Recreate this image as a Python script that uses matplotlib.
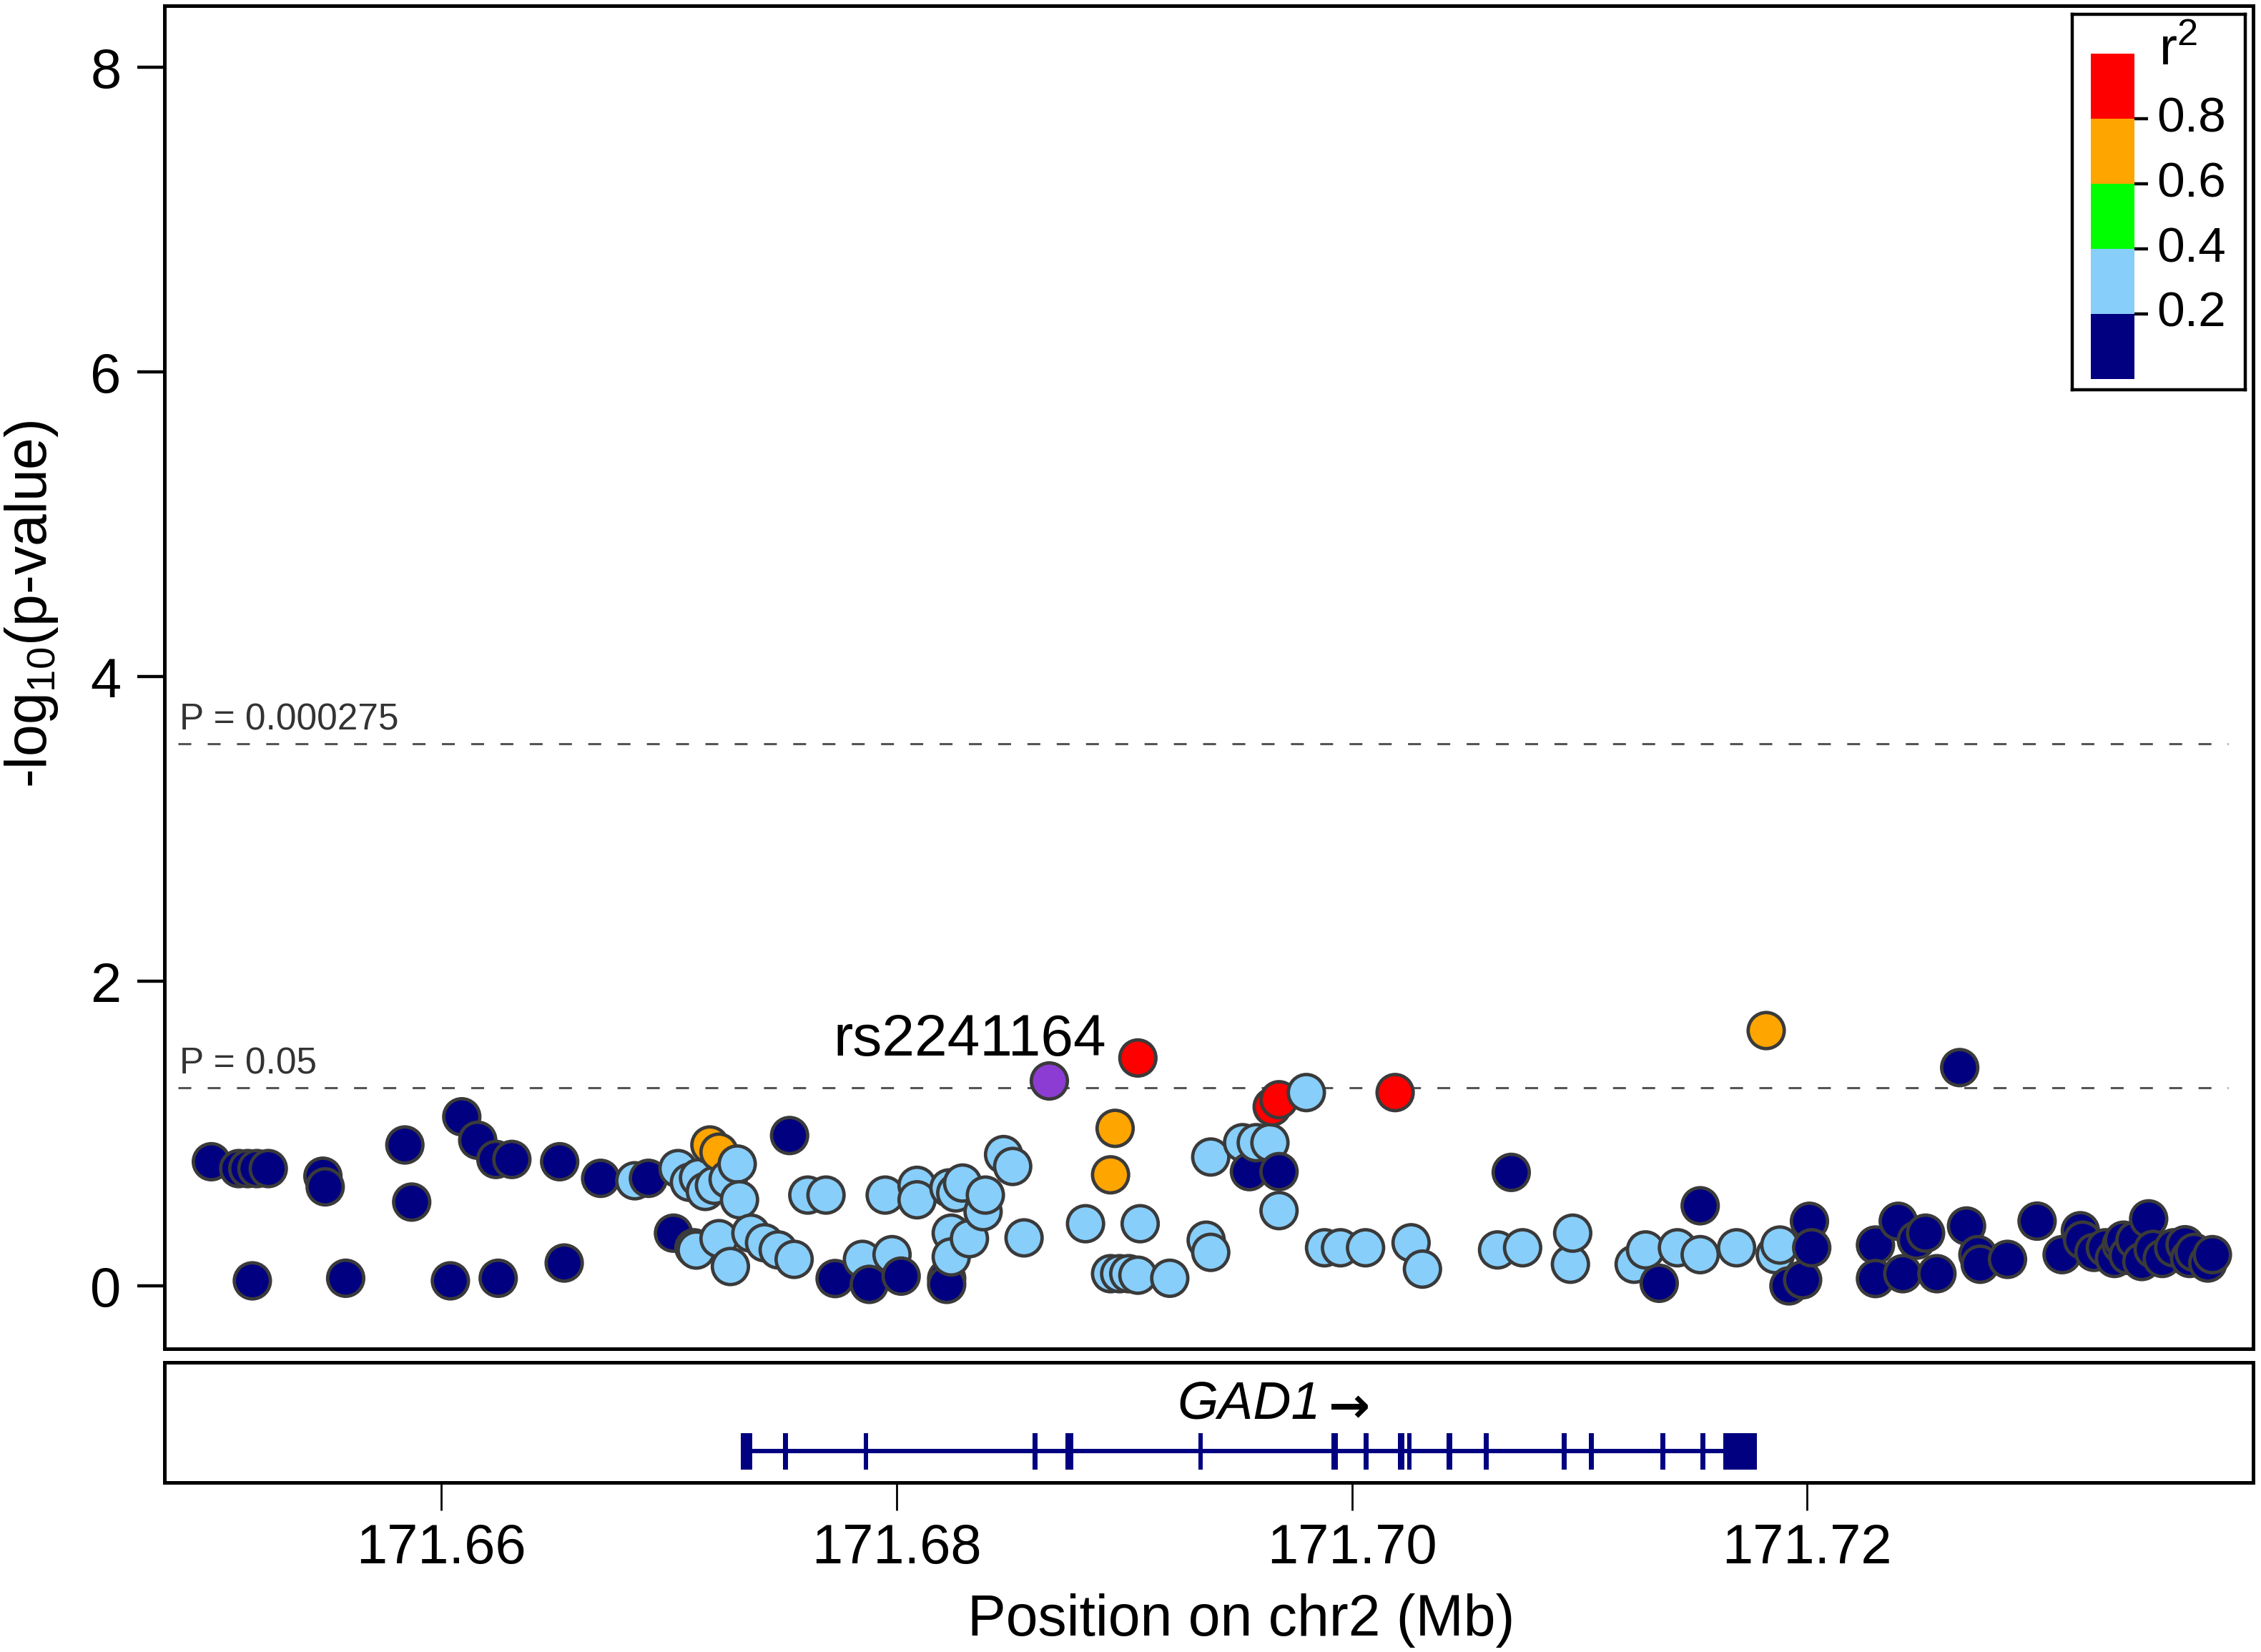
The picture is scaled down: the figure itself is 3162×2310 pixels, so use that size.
import numpy as np
import matplotlib
matplotlib.use('Agg')
import matplotlib.pyplot as plt
from matplotlib.transforms import blended_transform_factory

plt.rcParams['font.family'] = ['Liberation Sans', 'DejaVu Sans']
plt.rcParams['mathtext.fontset'] = 'custom'
plt.rcParams['mathtext.rm'] = 'Liberation Sans'
plt.rcParams['mathtext.it'] = 'Liberation Sans:italic'

# ---------------- data ----------------
# r2 < 0.2 (navy)
navy_pos = [171.6499, 171.6511, 171.6515, 171.6519, 171.6524, 171.6548, 171.6549,
            171.6584, 171.6587, 171.6609, 171.6616, 171.6624, 171.6631, 171.6652,
            171.6670, 171.6691, 171.6517, 171.6558, 171.6604, 171.6625, 171.6654,
            171.6702, 171.6753, 171.6773, 171.6788, 171.6802, 171.6822, 171.6822,
            171.6955, 171.6968, 171.7070, 171.7153, 171.7135, 171.7267,
            171.7201, 171.7202, 171.7198, 171.7192, 171.7230, 171.7230,
            171.7240, 171.7242, 171.7252, 171.7248, 171.7257, 171.7270,
            171.7275, 171.7276, 171.7288, 171.7301, 171.7312, 171.7320, 171.7321,
            171.7326, 171.7331, 171.7335, 171.7338, 171.7341, 171.7344, 171.7347,
            171.7350, 171.7352, 171.7356, 171.7361, 171.7366, 171.7368, 171.7370,
            171.7376, 171.7378, 171.7339]
navy_logp = [0.815, 0.77, 0.77, 0.77, 0.77, 0.72, 0.65,
             0.925, 0.55, 1.11, 0.956, 0.83, 0.83, 0.815,
             0.706, 0.706, 0.033, 0.05, 0.033, 0.05, 0.15,
             0.346, 0.987, 0.048, 0.01, 0.064, 0.048, 0.01,
             0.75, 0.75, 0.745, 0.526, 0.017, 1.433,
             0.424, 0.25, 0.04, 0.0, 0.268, 0.048,
             0.424, 0.08, 0.346, 0.30, 0.08, 0.393,
             0.205, 0.142, 0.174, 0.425, 0.205, 0.362, 0.30,
             0.22, 0.25, 0.18, 0.27, 0.20, 0.30, 0.16,
             0.44, 0.24, 0.18, 0.25, 0.27, 0.18, 0.22,
             0.15, 0.205, 0.30]

# 0.2 <= r2 < 0.4 (light blue)
light_pos = [171.6685, 171.6712, 171.6704, 171.6709, 171.6713, 171.6716, 171.6720, 171.6726,
             171.6730, 171.6731, 171.6711, 171.6722, 171.6727, 171.6736, 171.6742,
             171.6748, 171.6755, 171.6761, 171.6769, 171.6785, 171.6798, 171.6795,
             171.6809, 171.6809, 171.6823, 171.6829, 171.6826, 171.6839, 171.6838,
             171.6824, 171.6832, 171.6824, 171.6847, 171.6851, 171.6856, 171.6883,
             171.6907, 171.6894, 171.6898, 171.6902, 171.6906, 171.6920, 171.6938,
             171.6936, 171.6938, 171.6980, 171.6952, 171.6958, 171.6964, 171.6968,
             171.6988, 171.6995, 171.7006, 171.7026, 171.7031, 171.7064, 171.7075,
             171.7097, 171.7096, 171.7124, 171.7129, 171.7143, 171.7153, 171.7169,
             171.7188, 171.7186]
light_logp = [0.69, 0.235, 0.77, 0.68, 0.71, 0.62, 0.66, 0.70,
              0.80, 0.565, 0.25, 0.31, 0.127, 0.346, 0.283,
              0.236, 0.174, 0.596, 0.596, 0.174, 0.205, 0.596,
              0.66, 0.565, 0.643, 0.675, 0.61, 0.596, 0.487,
              0.346, 0.31, 0.19, 0.862, 0.784, 0.315, 0.408,
              0.408, 0.08, 0.08, 0.08, 0.07, 0.05, 0.846,
              0.30, 0.22, 1.269, 0.94, 0.94, 0.94, 0.494,
              0.25, 0.25, 0.25, 0.283, 0.11, 0.236, 0.25,
              0.346, 0.142, 0.142, 0.236, 0.25, 0.205, 0.25,
              0.268, 0.205]

# 0.6 <= r2 < 0.8 (orange)
orange_pos = [171.6718, 171.6722, 171.6896, 171.6894, 171.7182]
orange_logp = [0.925, 0.878, 1.034, 0.729, 1.676]

# r2 >= 0.8 (red)
red_pos = [171.6906, 171.6965, 171.6968, 171.7019]
red_logp = [1.496, 1.175, 1.222, 1.269]

# index SNP
index_snp = 'rs2241164'
index_pos = 171.6867
index_logp = 1.347

# thresholds
thresh_p = [0.000275, 0.05]
thresh_labels = ['P = 0.000275', 'P = 0.05']

# gene GAD1
gene_name = 'GAD1'
gene_start = 171.67316
gene_end = 171.71778
exon_center = [171.67341, 171.67512, 171.67865, 171.68608, 171.68758, 171.69335,
               171.69923, 171.70062, 171.70216, 171.70253, 171.70429, 171.70590,
               171.70932, 171.71051, 171.71366, 171.71542, 171.71704]
exon_width = [0.00048, 0.00025, 0.00018, 0.00022, 0.00035, 0.00018,
              0.00028, 0.00020, 0.00030, 0.00018, 0.00025, 0.00022,
              0.00022, 0.00022, 0.00022, 0.00022, 0.00148]

x_ticks = [171.66, 171.68, 171.70, 171.72]
x_ticklabels = ['171.66', '171.68', '171.70', '171.72']
y_ticks = [0, 2, 4, 6, 8]

legend_breaks = [0.0, 0.2, 0.4, 0.6, 0.8, 1.0]
legend_colors = ['#000080', '#87CEFA', '#00FF00', '#FFA500', '#FF0000']
legend_ticklabels = ['0.2', '0.4', '0.6', '0.8']

# ---------------- figure ----------------
W, H = 3162, 2310
DPI = 200
fig = plt.figure(figsize=(W / DPI, H / DPI), dpi=DPI)

def fx(px):
    return px / W

def fy(py):
    return 1 - py / H

ax_left, ax_right = 230, 3151
ax = fig.add_axes([fx(ax_left), fy(1886), fx(ax_right - ax_left), (1886 - 8) / H])
gx = fig.add_axes([fx(ax_left), fy(2073), fx(ax_right - ax_left), (2073 - 1905) / H])

xlim = (171.64784, 171.73959)
ax.set_xlim(*xlim)
ax.set_ylim(-0.413, 8.404)
gx.set_xlim(*xlim)
gx.set_ylim(0, 1)

# points, plotted in positional order
pos = np.array(navy_pos + light_pos + orange_pos + red_pos)
lp = np.array(navy_logp + light_logp + orange_logp + red_logp)
cols = np.array([legend_colors[0]] * len(navy_pos) + [legend_colors[1]] * len(light_pos)
                + [legend_colors[3]] * len(orange_pos) + [legend_colors[4]] * len(red_pos))
order = np.argsort(pos, kind='stable')
ms = 330
ax.scatter(pos[order], lp[order], s=ms, c=cols[order], edgecolors='#3a3a3a',
           linewidths=1.7, zorder=3)
ax.scatter([index_pos], [index_logp], s=ms, c='#8C3CD2', edgecolors='#3a3a3a',
           linewidths=1.7, zorder=4)
ax.annotate(index_snp, xy=(index_pos, index_logp), xytext=(-40, 12.6),
            textcoords='offset points', ha='center', va='baseline',
            fontsize=29.5, color='black', zorder=5)

# threshold lines
trans = blended_transform_factory(ax.transAxes, ax.transData)
for p, lab in zip(thresh_p, thresh_labels):
    yv = -np.log10(p)
    ax.axhline(yv, xmin=0.0065, xmax=0.988, color='#555555', lw=1.1,
               ls=(0, (5.9, 7.5)), zorder=2)
    ax.annotate(lab, xy=(0.0072, yv), xycoords=trans, xytext=(0, 7),
                textcoords='offset points', ha='left', va='baseline',
                fontsize=18.5, color='#333333')

for a in (ax, gx):
    for s in a.spines.values():
        s.set_linewidth(1.8)
        s.set_color('black')

ax.set_yticks(y_ticks)
ax.set_yticklabels([str(v) for v in y_ticks])
ax.tick_params(axis='y', length=13.7, width=1.6, pad=8, labelsize=28)
ax.tick_params(axis='x', bottom=False, labelbottom=False)

gx.set_yticks([])
gx.set_xticks(x_ticks)
gx.set_xticklabels(x_ticklabels)
gx.tick_params(axis='x', length=14, width=1.0, pad=6, labelsize=28)

# gene track
y_line = 0.259
gx.hlines(y_line, gene_start, gene_end, color='#000080', lw=2.2, zorder=2)
gx.bar(exon_center, 0.30, width=exon_width, bottom=0.108, color='#000080',
       edgecolor='none', zorder=3)
gmid = (gene_start + gene_end) / 2
t = gx.text(gmid, 0.53, gene_name, ha='center', va='baseline', fontsize=26.5,
            style='italic')
gx.annotate('\u2192', xy=(1, 0.42), xycoords=t, xytext=(4, 0),
            textcoords='offset points', ha='left', va='center', fontsize=25,
            fontweight='bold', family=['DejaVu Sans'])

# axis labels
fig.text(fx(44), fy(845), '-log$_{\\mathregular{10}}$(p-value)', rotation=90,
         ha='center', va='center', fontsize=29)
fig.text(fx(1736), fy(2266), 'Position on chr2 (Mb)', ha='center', va='center',
         fontsize=29)

# legend
lg_l, lg_r, lg_t, lg_b = 2898, 3140, 20, 545
lg = fig.add_axes([fx(lg_l), fy(lg_b), fx(lg_r - lg_l), (lg_b - lg_t) / H])
lg.set_xlim(0, 1)
lg.set_ylim(-0.033, 1.121)
lg.set_xticks([])
lg.set_yticks([])
for s in lg.spines.values():
    s.set_linewidth(1.6)
lg.set_facecolor('white')
lg.set_zorder(10)
lo = legend_breaks[:-1]
hi = legend_breaks[1:]
lg.bar([0.2335] * len(lo), np.array(hi) - np.array(lo), bottom=lo, width=0.252,
       color=legend_colors, edgecolor='none')
lg.hlines(legend_breaks[1:-1], 0.36, 0.44, color='black', lw=1.6)
for b, lab in zip(legend_breaks[1:-1], legend_ticklabels):
    lg.text(0.49, b, lab, ha='left', va='center', fontsize=25)
lg.text(0.50, 0.965, 'r$^{\\mathregular{2}}$', ha='left', va='baseline', fontsize=27)

fig.savefig('out.png', dpi=DPI, facecolor='white')
